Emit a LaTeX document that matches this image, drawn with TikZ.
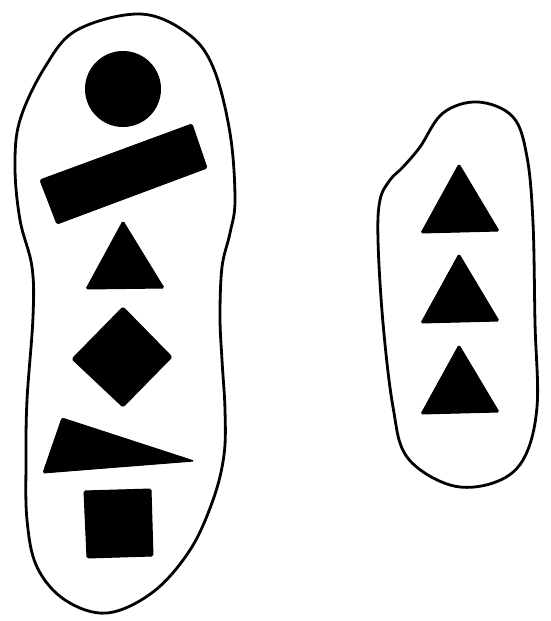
\documentclass[tikz,border=0pt]{standalone}
\usepackage{tikz}
\usetikzlibrary{calc}
\tikzset{
  blob/.style={draw=black, line width=2.8pt, line join=round},
  piece/.style={fill=black, draw=black, line width=1pt, rounded corners=1.5pt}
}
\begin{document}
\begin{tikzpicture}[x=1pt,y=-1pt]
  \useasboundingbox[fill=white] (0,0) rectangle (550,621);
  % left set
  \draw[blob] plot[smooth cycle, tension=0.6] coordinates {
    (140,14) (187,33) (213,67) (230,133) (235,200) (230,233) (222,267)
    (220,317) (222,360) (225,410) (224,455) (213,500) (190,550) (153,592)
    (107,613) (65,600) (37,567) (27,520) (26,460) (27,400) (33,317)
    (32,267) (20,220) (15,167) (20,120) (45,67) (77,30)};
  \fill[black] (123,89) circle (38);
  \draw[piece] (40,180) -- (192,124) -- (207,168) -- (57,224) -- cycle;
  \draw[piece] (123,221) -- (164,288) -- (86,289) -- cycle;
  \draw[piece] (123,307) -- (172,357) -- (123,407) -- (72,359) -- cycle;
  \draw[piece] (62,418) -- (194,461) -- (43,473) -- cycle;
  \draw[piece] (84,491) -- (151,489) -- (153,556) -- (87,558) -- cycle;
  % right set
  \draw[blob] plot[smooth cycle, tension=0.6] coordinates {
    (478,102) (513,117) (527,157) (533,223) (535,323) (537,407) (523,460)
    (493,483) (450,485) (407,457) (393,407) (383,323) (378,240) (380,200)
    (390,180) (403,167) (420,147) (443,113)};
  \foreach \dy in {0,90,181}{
    \draw[piece] ($(459,164)+(0,\dy)$) -- ($(499,231)+(0,\dy)$) -- ($(421,233)+(0,\dy)$) -- cycle;
  }
\end{tikzpicture}
\end{document}
